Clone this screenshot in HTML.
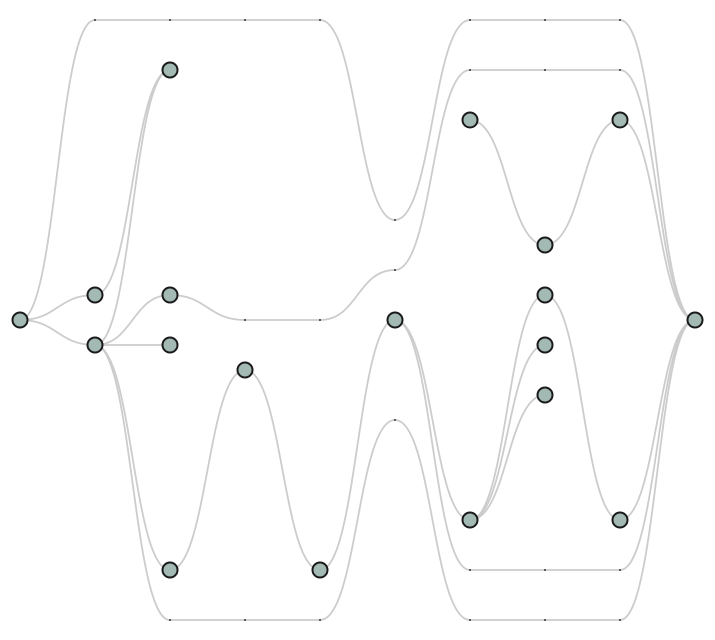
<!DOCTYPE html>
<html><head><meta charset="utf-8">
<style>html,body{margin:0;padding:0;background:#fff;}svg{display:block;}</style>
</head><body>
<svg id="chart" width="715" height="640" viewBox="0 0 715 640" xmlns="http://www.w3.org/2000/svg">
<g id="edges"></g>
<g id="dummies"></g>
<g id="nodes"></g>
</svg>
<script>
// node positions as [layer, row] in graph units
const nodeLayers = [0,1,1,2,2,2,2,3,4,5,6,6,7,7,7,7,8,8,9];
const nodeRows   = [12,11,13,2,11,13,22,14,22,12,4,20,9,11,13,15,4,20,12];
// edges as sequences of [layer,row] points; endpoints are nodes
const edgePaths = [
  [[0,12],[1,0],[2,0],[3,0],[4,0],[5,8],[6,0],[7,0],[8,0],[9,12]],
  [[0,12],[1,11]],
  [[0,12],[1,13]],
  [[1,11],[2,2]],
  [[1,13],[2,2]],
  [[1,13],[2,11]],
  [[2,11],[3,12],[4,12],[5,10],[6,2],[7,2],[8,2],[9,12]],
  [[1,13],[2,13]],
  [[1,13],[2,22],[3,14],[4,22],[5,12]],
  [[1,13],[2,24],[3,24],[4,24],[5,16],[6,24],[7,24],[8,24],[9,12]],
  [[5,12],[6,20]],
  [[5,12],[6,22],[7,22],[8,22],[9,12]],
  [[6,4],[7,9],[8,4],[9,12]],
  [[6,20],[7,11],[8,20],[9,12]],
  [[6,20],[7,13]],
  [[6,20],[7,15]]
];
const X = l => 20 + l*75;
const Y = r => 20 + r*25;
const NS = 'http://www.w3.org/2000/svg';
const gE = document.getElementById('edges'), gD = document.getElementById('dummies'), gN = document.getElementById('nodes');
const isNode = (l,r) => nodeLayers.some((nl,i)=>nl===l && nodeRows[i]===r);
edgePaths.forEach((pts,ei)=>{
  let d = 'M' + X(pts[0][0]) + ',' + Y(pts[0][1]);
  for (let i=1;i<pts.length;i++){
    const x0=X(pts[i-1][0]), y0=Y(pts[i-1][1]), x1=X(pts[i][0]), y1=Y(pts[i][1]);
    const m=(x1-x0)/2;
    d += ` C${x0+m},${y0} ${x1-m},${y1} ${x1},${y1}`;
  }
  const p=document.createElementNS(NS,'path');
  p.setAttribute('d',d);
  p.setAttribute('fill','none');
  p.setAttribute('stroke','#cccccc');
  p.setAttribute('stroke-width','1.8');
  
  
  gE.appendChild(p);
  pts.forEach(pt=>{
    if(!isNode(pt[0],pt[1])){
      const c=document.createElementNS(NS,'circle');
      c.setAttribute('cx',X(pt[0]));c.setAttribute('cy',Y(pt[1]));c.setAttribute('r','1');
      c.setAttribute('fill','#333');
      
      
      gD.appendChild(c);
    }
  });
});
nodeLayers.forEach((l,i)=>{
  const c=document.createElementNS(NS,'circle');
  c.setAttribute('cx',X(l));c.setAttribute('cy',Y(nodeRows[i]));c.setAttribute('r','7.5');
  c.setAttribute('fill','#a3b9b3');c.setAttribute('stroke','#1a1a1a');c.setAttribute('stroke-width','2');
  
  
  gN.appendChild(c);
});
</script>
</body></html>
